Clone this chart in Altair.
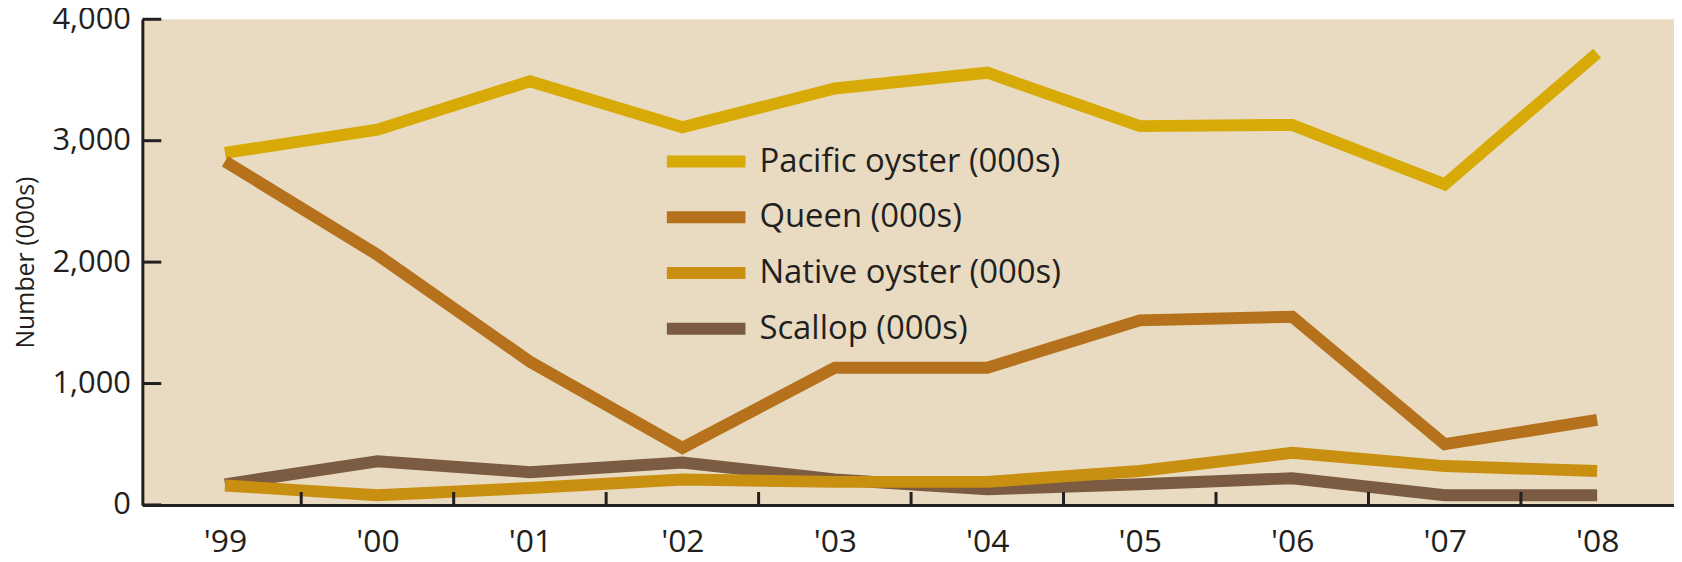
import altair as alt
import pandas as pd

years = [1999, 2000, 2001, 2002, 2003, 2004, 2005, 2006, 2007, 2008]
pacific = [2900, 3090, 3490, 3110, 3430, 3560, 3120, 3130, 2640, 3720]
queen = [2830, 2060, 1180, 470, 1130, 1130, 1520, 1550, 500, 700]
native = [160, 80, 140, 210, 190, 190, 280, 430, 320, 280]
scallop = [170, 360, 270, 350, 210, 130, 170, 220, 80, 80]

series_names = ["Pacific oyster (000s)", "Queen (000s)", "Native oyster (000s)", "Scallop (000s)"]
series_colors = ["#d7aa07", "#b5711c", "#c98f10", "#7b5b42"]

x_tick_positions = [1999.5, 2000.5, 2001.5, 2002.5, 2003.5, 2004.5, 2005.5, 2006.5, 2007.5]
y_tick_values = [0, 1000, 2000, 3000, 4000]

W, H = 1539, 488
AXIS = "#231f20"
FONT = "Open Sans"

rows = []
# draw order: later groups on top
for name, vals in [(series_names[0], pacific), (series_names[3], scallop),
                   (series_names[1], queen), (series_names[2], native)]:
    for y, v in zip(years, vals):
        rows.append({"year": y, "value": v, "series": name})
df = pd.DataFrame(rows)

xscale = alt.Scale(domain=[1998.458, 2008.504], nice=False, zero=False)
yscale = alt.Scale(domain=[0, 4000], nice=False)

lines = alt.Chart(df).mark_line(strokeWidth=12, strokeCap="butt", strokeJoin="miter").encode(
    x=alt.X("year:Q", scale=xscale,
            axis=alt.Axis(values=years, title=None, grid=False, ticks=False,
                          domain=True, domainWidth=3, domainColor=AXIS,
                          labelExpr="\"'\" + substring(toString(datum.value), 2)",
                          labelFont=FONT, labelFontSize=32, labelColor=AXIS,
                          labelPadding=22)),
    y=alt.Y("value:Q", scale=yscale,
            axis=alt.Axis(values=y_tick_values, title="Number (000s)", grid=False, ticks=False,
                          domain=True, domainWidth=3, domainColor=AXIS,
                          format=",.0f", labelFont=FONT, labelFontSize=31, labelColor=AXIS,
                          labelPadding=12,
                          titleFont=FONT, titleFontSize=25, titleFontWeight="normal",
                          titleColor=AXIS, titleX=-117, titleY=H / 2,
                          titleAlign="center", titleBaseline="middle", titleAngle=270)),
    color=alt.Color("series:N",
                    scale=alt.Scale(domain=series_names, range=series_colors),
                    legend=alt.Legend(title=None, orient="none", legendX=521, legendY=126,
                                      symbolType="stroke", symbolSize=6241,
                                      symbolStrokeWidth=12, clipHeight=34,
                                      labelFont=FONT,
                                      labelFontSize=33, labelColor=AXIS, labelLimit=0,
                                      labelOffset=8, rowPadding=22)),
    detail="series:N",
)

xt = alt.Chart(pd.DataFrame({"pos": x_tick_positions})).mark_rule(
    strokeWidth=3, color=AXIS).encode(
    x=alt.X("pos:Q", scale=xscale),
    y=alt.value(H - 13), y2=alt.value(H))

yt = alt.Chart(pd.DataFrame({"val": y_tick_values})).mark_rule(
    strokeWidth=3, color=AXIS).encode(
    y=alt.Y("val:Q", scale=yscale),
    x=alt.value(0), x2=alt.value(19))

chart = alt.layer(lines, xt, yt).properties(
    width=W, height=H,
    autosize=alt.AutoSizeParams(type="none"),
    padding={"left": 135, "top": 10, "right": 0, "bottom": 56},
).configure(background="white").configure_view(fill="#e8dbc1", stroke=None)

chart.save("out.html", embed_options={"renderer": "svg", "actions": False})
